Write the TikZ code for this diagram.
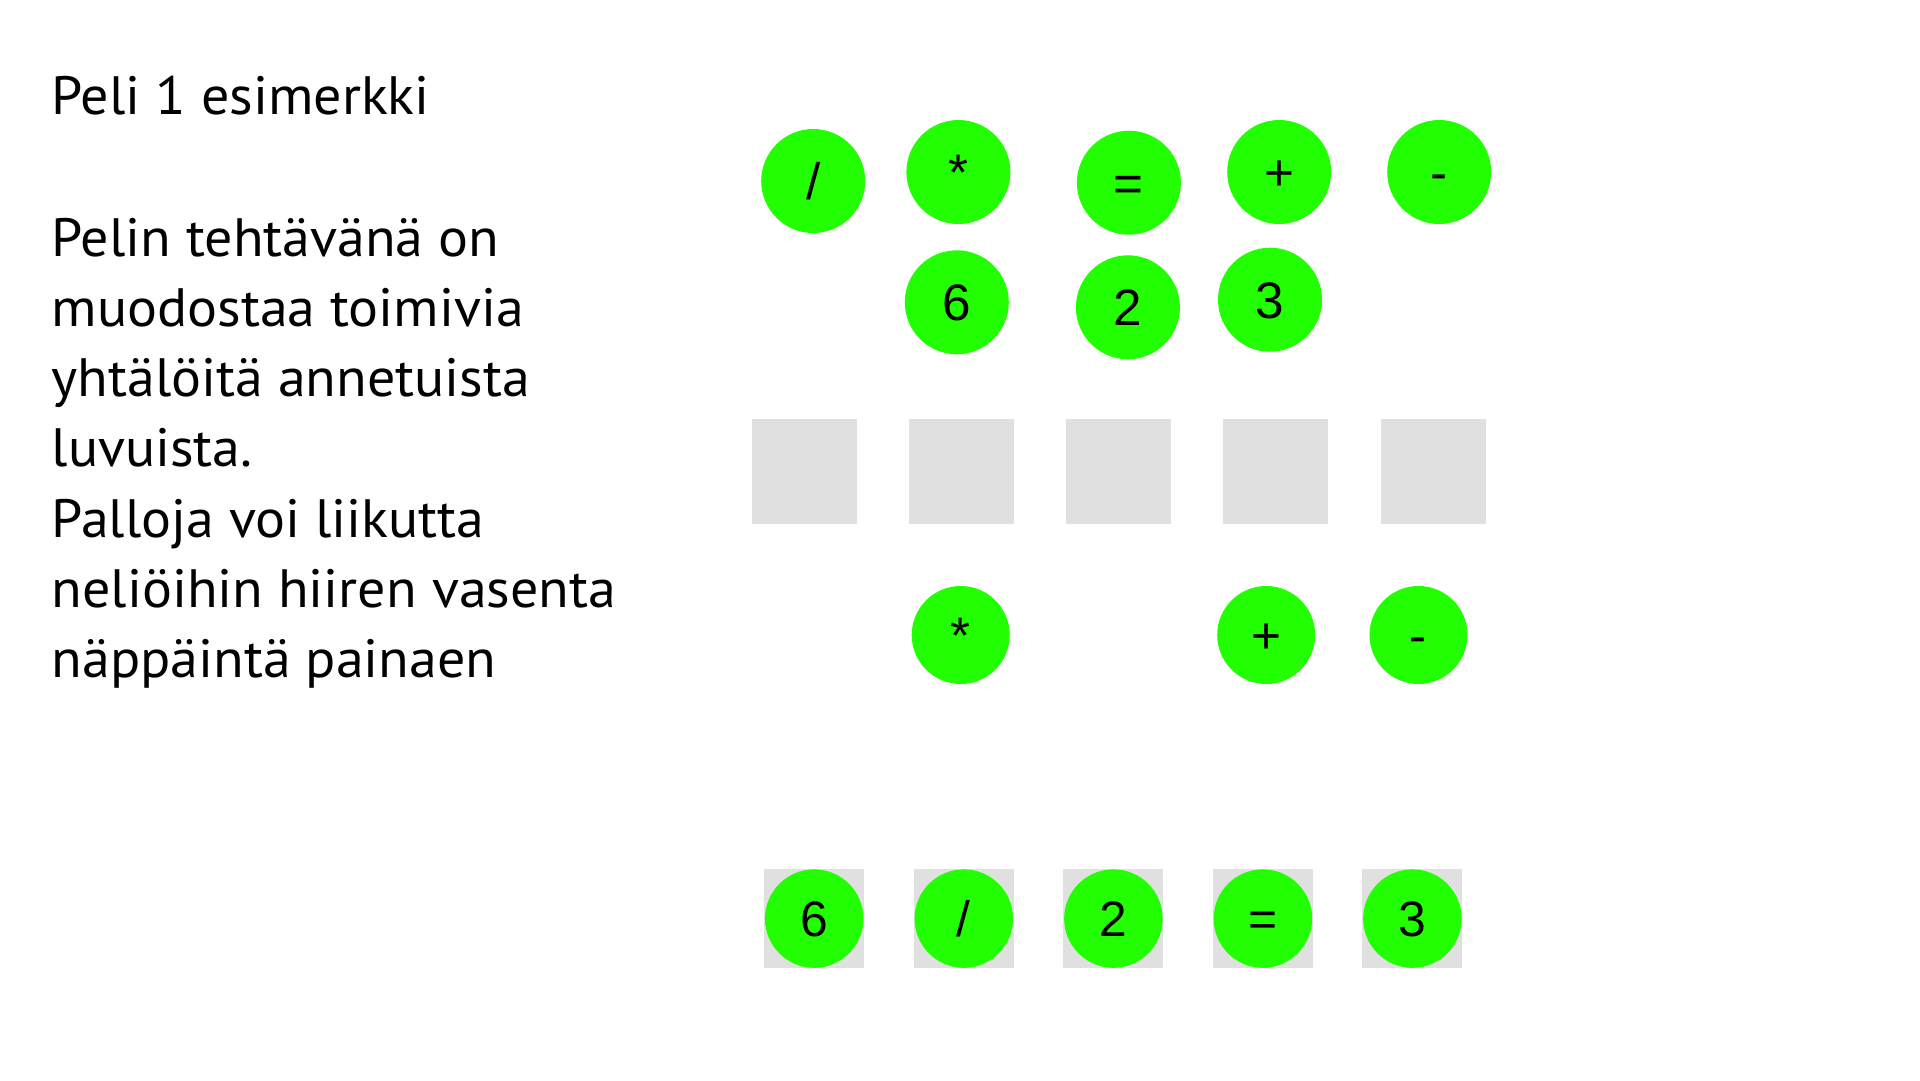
\documentclass[tikz,border=0pt]{standalone}
\usepackage{fontspec}
\setmainfont{PT Sans}[FakeStretch=1.037]
\newfontfamily\ballfont{Liberation Sans}
\definecolor{ballgreen}{RGB}{34,255,0}
\definecolor{slotgray}{RGB}{224,224,224}
\tikzset{
  ballbig/.style={circle, fill=ballgreen, inner sep=0pt, minimum size=104bp,
    text height=37bp, text depth=0pt, font=\ballfont\fontsize{51.5}{51.5}\selectfont},
  ballmid/.style={circle, fill=ballgreen, inner sep=0pt, minimum size=98bp,
    text height=37bp, text depth=0pt, font=\ballfont\fontsize{51.5}{51.5}\selectfont},
  ballsmall/.style={circle, fill=ballgreen, inner sep=0pt, minimum size=98.5bp,
    text height=36bp, text depth=0pt, font=\ballfont\fontsize{50}{50}\selectfont},
  slotbig/.style={rectangle, fill=slotgray, inner sep=0pt, minimum width=105bp, minimum height=105bp},
  slotsmall/.style={rectangle, fill=slotgray, inner sep=0pt, minimum width=100bp, minimum height=99bp},
  bodytext/.style={anchor=base west, inner sep=0pt, font=\fontsize{54.2}{54.2}\selectfont},
}
\begin{document}
\begin{tikzpicture}[x=1bp,y=-1bp]
\useasboundingbox (0,0) rectangle (1920,1080);
% text
\node[bodytext] (title) at (51.5,114.5) {Peli 1 esimerkki};
\node[bodytext] (l1) at (51.5,256) {Pelin tehtävänä on};
\node[bodytext] (l2) at (51.5,326.3) {muodostaa toimivia};
\node[bodytext] (l3) at (51.5,396.6) {yhtälöitä annetuista};
\node[bodytext] (l4) at (51.5,466.9) {luvuista.};
\node[bodytext] (l5) at (51.5,537.2) {Palloja voi liikutta};
\node[bodytext] (l6) at (51.5,607.5) {neliöihin hiiren vasenta};
\node[bodytext] (l7) at (51.5,677.8) {näppäintä painaen};
% top operator balls
\node[ballbig] (opdiv) at (813.2,181) {/};
\node[ballbig] (opmul) at (958.4,172) {*};
\node[ballbig] (opeq) at (1128.9,182.7) {=};
\node[ballbig] (opadd) at (1279.2,172) {+};
\node[ballbig] (opsub) at (1439.2,172) {-};
% number balls
\node[ballbig] (n6) at (956.8,302.3) {6};
\node[ballbig] (n2) at (1127.9,307.3) {2};
\node[ballbig] (n3) at (1270,299.7) {3};
% empty slots
\node[slotbig] (s1) at (804,471.5) {};
\node[slotbig] (s2) at (961.4,471.5) {};
\node[slotbig] (s3) at (1118.8,471.5) {};
\node[slotbig] (s4) at (1275.5,471.5) {};
\node[slotbig] (s5) at (1433,471.5) {};
% remaining operators
\node[ballmid] (rmul) at (960.7,635) {*};
\node[ballmid] (radd) at (1266.2,635) {+};
\node[ballmid] (rsub) at (1418.5,635) {-};
% solved row
\node[slotsmall] (b1) at (814.2,918.6) {};
\node[slotsmall] (b2) at (963.8,918.6) {};
\node[slotsmall] (b3) at (1113.4,918.6) {};
\node[slotsmall] (b4) at (1262.9,918.6) {};
\node[slotsmall] (b5) at (1412.4,918.6) {};
\node[ballsmall] (e1) at (b1) {6};
\node[ballsmall] (e2) at (b2) {/};
\node[ballsmall] (e3) at (b3) {2};
\node[ballsmall] (e4) at (b4) {=};
\node[ballsmall] (e5) at (b5) {3};
\end{tikzpicture}
\end{document}
